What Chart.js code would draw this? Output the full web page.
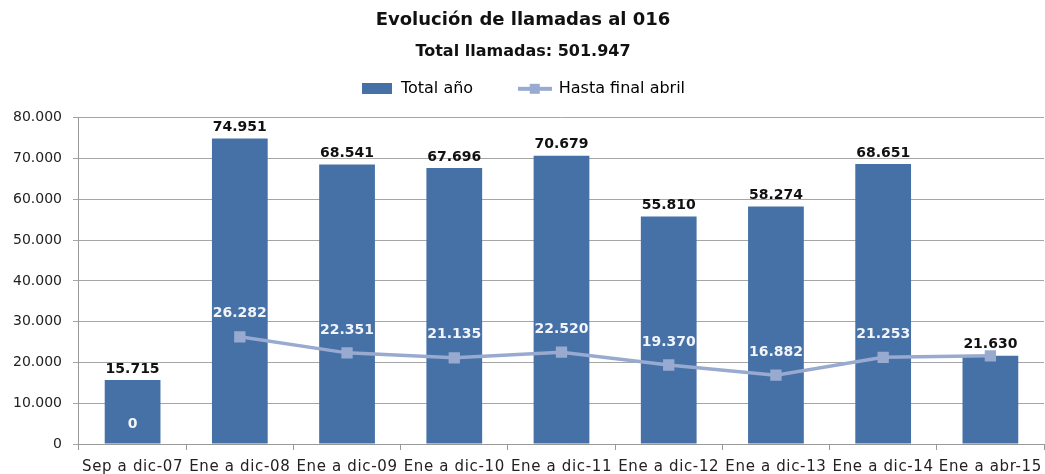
<!DOCTYPE html>
<html><head><meta charset="utf-8">
<script src="https://cdn.jsdelivr.net/npm/chart.js@4.4.1/dist/chart.umd.min.js"></script>
<style>html,body{margin:0;padding:0;background:#fff}#wrap{width:1045px;height:474px}</style>
</head><body><div id="wrap"><canvas id="c"></canvas></div>
<script>
const categories = ["Sep a dic-07","Ene a dic-08","Ene a dic-09","Ene a dic-10","Ene a dic-11","Ene a dic-12","Ene a dic-13","Ene a dic-14","Ene a abr-15"];
const totalAnio = [15715,74951,68541,67696,70679,55810,58274,68651,21630];
const hastaAbril = [0,26282,22351,21135,22520,19370,16882,21253,21630];
const yTicks = [0,10000,20000,30000,40000,50000,60000,70000,80000];
const titleText = "Evolución de llamadas al 016";
const subtitleText = "Total llamadas: 501.947";

const FONT = "'DejaVu Sans', sans-serif";
const fmt = v => v.toLocaleString('de-DE');
const BAR = '#4571A6', LINE = '#98AAD0';

function lineIcon(){
  const c = document.createElement('canvas'); c.width = 34; c.height = 12;
  const x = c.getContext('2d');
  x.strokeStyle = LINE; x.lineWidth = 4; x.beginPath(); x.moveTo(0,6); x.lineTo(34,6); x.stroke();
  x.fillStyle = LINE; x.fillRect(12,1,10,10);
  return c;
}
function boxIcon(){
  const c = document.createElement('canvas'); c.width = 30; c.height = 11;
  const x = c.getContext('2d'); x.fillStyle = BAR; x.fillRect(0,0,30,11); return c;
}

const labelPlugin = {
  id:'vlabels',
  afterDatasetsDraw(chart){
    const ctx = chart.ctx; ctx.save();
    ctx.font = "bold 14px " + FONT; ctx.textAlign = 'center'; ctx.textBaseline = 'middle';
    const bm = chart.getDatasetMeta(0), lm = chart.getDatasetMeta(1);
    bm.data.forEach((el,i)=>{ ctx.fillStyle = '#111'; ctx.fillText(fmt(totalAnio[i]), el.x, el.y - 11); });
    lm.data.forEach((el,i)=>{
      if (hastaAbril[i] === totalAnio[i]) return;
      ctx.fillStyle = '#F2F4FA'; ctx.fillText(fmt(hastaAbril[i]), el.x, el.y - (hastaAbril[i] === 0 ? 20 : 23));
    });
    ctx.restore();
  }
};
const spacingPlugin = {
  id:'xspacing',
  afterLayout(chart){
    const s = chart.scales.x;
    const R = chart.width - 1;
    if (s && s.right < R){
      s.right = R; s.width = s.right - s.left; s.configure();
      chart.chartArea.right = R; chart.chartArea.width = R - chart.chartArea.left;
    }
  },
  afterUpdate(chart){
    const s = chart.scales.x;
    if (s && !s._lsPatched){
      const o = s.drawLabels.bind(s);
      s.drawLabels = function(a){ chart.ctx.save(); chart.ctx.letterSpacing = '0.65px'; chart.ctx.translate(0,3); o(a); chart.ctx.restore(); };
      s._lsPatched = true;
    }
  }
};
const legendExtra = { id:'legendExtra', afterInit(chart){ const L = chart.legend; const orig = L.fit.bind(L); L.fit = function(){ orig(); this.height += 11; }; } };

new Chart(document.getElementById('c'), {
  type:'bar',
  data:{ labels:categories, datasets:[
    { label:'Total año', data:totalAnio, backgroundColor:BAR, barPercentage:0.52, categoryPercentage:1, order:2 },
    { type:'line', label:'Hasta final abril', data:hastaAbril, borderColor:LINE, backgroundColor:LINE, borderWidth:3.5,
      pointStyle:'rect', pointRadius:hastaAbril.map(v=>v===0?0:8), pointHoverRadius:8, pointBackgroundColor:LINE, pointBorderWidth:0,
      segment:{ borderColor: s => hastaAbril[s.p0DataIndex]===0 ? 'rgba(0,0,0,0)' : LINE }, order:1 }
  ]},
  options:{
    responsive:true, maintainAspectRatio:false, animation:false,
    layout:{ padding:{ left:2, right:1, top:4, bottom:0 } },
    plugins:{
      title:{ display:true, text:titleText, color:'#111', font:{ family:FONT, size:18, weight:'bold' }, padding:{ top:6, bottom:11 } },
      subtitle:{ display:true, text:subtitleText, color:'#111', font:{ family:FONT, size:16, weight:'bold' }, padding:{ top:0, bottom:9 } },
      legend:{ display:true, labels:{ usePointStyle:true, pointStyleWidth:32, color:'#222', font:{ family:FONT, size:16 }, padding:10,
        generateLabels: ch => [
          { text:'Total año       ', pointStyle:boxIcon(), fillStyle:BAR, strokeStyle:BAR, lineWidth:0, datasetIndex:0 },
          { text:'Hasta final abril', pointStyle:lineIcon(), fillStyle:LINE, strokeStyle:LINE, lineWidth:0, datasetIndex:1 }
        ] } },
      tooltip:{ enabled:false }
    },
    scales:{
      x:{ grid:{ drawOnChartArea:false, drawTicks:true, tickLength:6, color:'#999', offset:true },
          border:{ color:'#999' }, ticks:{ color:'#222', font:{ family:FONT, size:15 }, maxRotation:0, autoSkip:false, padding:5 },
          afterFit: s => { s.height -= 4; } },
      y:{ min:0, max:80000, afterBuildTicks: ax => { ax.ticks = yTicks.map(v=>({value:v})); },
          grid:{ color:'#a6a6a6', tickLength:6 }, border:{ color:'#999' },
          ticks:{ color:'#222', font:{ family:FONT, size:14 }, callback: v => fmt(v), padding:11 } }
    }
  },
  plugins:[labelPlugin, spacingPlugin, legendExtra]
});
</script></body></html>
